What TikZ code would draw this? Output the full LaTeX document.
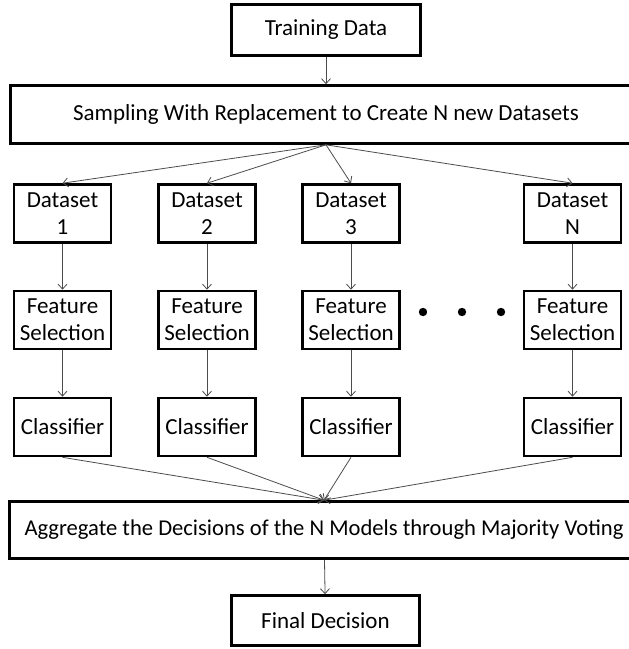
\documentclass[tikz,border=0pt]{standalone}
\usepackage{fontspec}
\setmainfont{Carlito}
\usetikzlibrary{arrows.meta}

\begin{document}
\begin{tikzpicture}[x=1pt, y=-1pt,
		box/.style={rectangle, draw, line width=2.6pt, inner sep=0pt, align=center,
			font=\fontsize{23}{27}\selectfont},
		small/.style={box, minimum width=97pt, minimum height=58pt},
		wide/.style={box, minimum width=631pt, minimum height=58pt},
		flow/.style={draw=black!70, line width=0.8pt, -{Straight Barb[length=5pt, width=9pt]}}]
		\useasboundingbox (0, 0) rectangle (629, 649);

		\draw 
		(326, 30) node [box, minimum width=189pt, minimum height=51pt] (train) {Training Data}
		(326, 114.5) node [wide] (sample) {Sampling With Replacement to Create N new Datasets};
		\draw[flow] (train) -- (sample);

		\draw 
		(62.5, 213.5) node [small] (DS1) {Dataset\\1}
		(62.5, 320) node [small] (FS1) {Feature\\Selection}
		(62.5, 427) node [small] (CL1) {Classifier};
		\draw[flow] (DS1) -- (FS1);
		\draw[flow] (FS1) -- (CL1);

		\draw 
		(207, 213.5) node [small] (DS2) {Dataset\\2}
		(207, 320) node [small] (FS2) {Feature\\Selection}
		(207, 427) node [small] (CL2) {Classifier};
		\draw[flow] (DS2) -- (FS2);
		\draw[flow] (FS2) -- (CL2);

		\draw 
		(351, 213.5) node [small] (DS3) {Dataset\\3}
		(351, 320) node [small] (FS3) {Feature\\Selection}
		(351, 427) node [small] (CL3) {Classifier};
		\draw[flow] (DS3) -- (FS3);
		\draw[flow] (FS3) -- (CL3);

		\draw 
		(572.5, 213.5) node [small] (DSN) {Dataset\\N}
		(572.5, 320) node [small] (FSN) {Feature\\Selection}
		(572.5, 427) node [small] (CLN) {Classifier};
		\draw[flow] (DSN) -- (FSN);
		\draw[flow] (FSN) -- (CLN);

		\fill (423, 312) circle (4.2pt) (462, 312) circle (4.2pt) (501, 312) circle (4.2pt);

		\draw 
		(324, 530) node [box, minimum width=629pt, minimum height=57pt, font=\fontsize{22.6}{27}\selectfont] (agg) {Aggregate the Decisions of the N Models through Majority Voting}
		(325.5, 620.5) node [box, minimum width=188pt, minimum height=50pt] (final) {Final Decision};
		\draw[flow] (agg) -- (final);

		\draw[flow] (sample.south) -- (DS1.north);
		\draw[flow] (sample.south) -- (DS2.north);
		\draw[flow] (sample.south) -- (DS3.north);
		\draw[flow] (sample.south) -- (DSN.north);

		\draw[flow] (CL1.south) -- (agg.north);
		\draw[flow] (CL2.south) -- (agg.north);
		\draw[flow] (CL3.south) -- (agg.north);
		\draw[flow] (CLN.south) -- (agg.north);
	\end{tikzpicture}
\end{document}
